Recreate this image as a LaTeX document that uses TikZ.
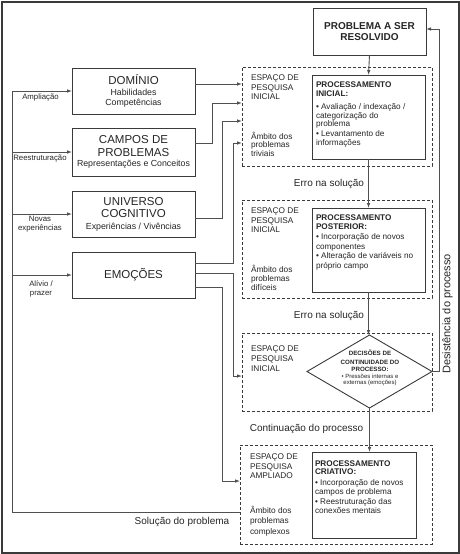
\documentclass[tikz,border=0pt]{standalone}
\usepackage{fontspec}
\setmainfont{Liberation Sans}
\usetikzlibrary{arrows.meta,shapes.geometric}
\definecolor{ink}{HTML}{262626}
\definecolor{lnc}{HTML}{3A3A3A}
\definecolor{cnc}{HTML}{505050}
\begin{document}
\begin{tikzpicture}[x=1pt,y=-1pt,
  every node/.style={text=ink, inner sep=0pt, outer sep=0pt},
  lbox/.style={draw=lnc, line width=0.9pt, minimum width=123pt, align=center,
    font=\fontsize{8.8}{10.5}\selectfont},
  pbox/.style={draw=lnc, line width=0.9pt, minimum width=113pt, minimum height=84pt},
  dbox/.style={draw=lnc, line width=0.8pt, dash pattern=on 3pt off 2pt, minimum width=190pt},
  ptxt/.style={anchor=north west, align=left, font=\fontsize{8.2}{8.8}\selectfont},
  etxt/.style={anchor=north west, align=left, font=\fontsize{8.3}{9.6}\selectfont},
  lab/.style={align=center, font=\fontsize{7.8}{9}\selectfont},
  big/.style={font=\fontsize{10}{12}\selectfont},
  conn/.style={draw=cnc, line width=0.9pt},
  arr/.style={conn, -{Latex[length=5pt,width=3.6pt]}},
  frame/.style={draw=lnc, line width=2pt}
]
\useasboundingbox (0,0) rectangle (460,554);
\fill[white] (0,0) rectangle (460,554);
\draw[frame] (1.5,1.5) rectangle (458.5,552.5);

% left boxes
\node[lbox, minimum height=46pt] (dom) at (133.5,91)
  {{\fontsize{11.5}{12}\selectfont DOMÍNIO}\\[0.5pt]Habilidades\\Competências};
\node[lbox, minimum height=48pt] (camp) at (133.5,152)
  {{\fontsize{11.5}{12}\selectfont CAMPOS DE}\\[2.5pt]{\fontsize{11.5}{12}\selectfont PROBLEMAS}\\Representações e Conceitos};
\node[lbox, minimum height=46pt] (univ) at (133.5,214)
  {{\fontsize{11.5}{12}\selectfont UNIVERSO}\\[1.5pt]{\fontsize{11.5}{12}\selectfont COGNITIVO}\\[1.5pt]Experiências / Vivências};
\node[lbox, minimum height=46pt] (emo) at (133.5,275)
  {\fontsize{11.5}{12}\selectfont EMOÇÕES};

% problem box
\node[draw=lnc, line width=0.9pt, minimum width=113pt, minimum height=47pt, align=center,
  font=\bfseries\fontsize{10}{11.5}\selectfont] (prob) at (369.5,31.5) {PROBLEMA A SER\\RESOLVIDO};

% dashed boxes
\node[dbox, minimum height=99pt] (d1) at (337,116.5) {};
\node[dbox, minimum height=98pt] (d2) at (337,249) {};
\node[dbox, minimum height=78pt] (d3) at (337,372) {};
\node[dbox, minimum width=192pt, minimum height=99pt] (d4) at (336,494.5) {};

% processing boxes
\node[pbox] (pi) at (368.5,117) {};
\node[pbox] (pp) at (368.5,250) {};
\node[pbox, minimum width=104pt, minimum height=86pt] (pc) at (364,495) {};
\node[draw=lnc, line width=0.9pt, diamond, minimum width=125pt, minimum height=73pt] (dia) at (369.5,371.5) {};

% processing texts
\node[ptxt] (pit) at (316,81.5)
  {\textbf{PROCESSAMENTO}\\\textbf{INICIAL:}\\[4.5pt]• Avaliação / indexação /\\categorização do\\problema\\[0.5pt]• Levantamento de\\informações};
\node[ptxt] (ppt) at (316,214.5)
  {\textbf{PROCESSAMENTO}\\\textbf{POSTERIOR:}\\[1.5pt]• Incorporação de novos\\[1pt]componentes\\[1pt]• Alteração de variáveis no\\[1pt]próprio campo};
\node[ptxt] (pct) at (315,460.5)
  {\textbf{PROCESSAMENTO}\\[-0.5pt]\textbf{CRIATIVO:}\\[2pt]• Incorporação de novos\\campos de problema\\[2pt]• Reestruturação das\\conexões mentais};
\node[align=center, font=\fontsize{6}{7}\selectfont] (diat) at (370,368)
  {{\bfseries\fontsize{6.2}{7}\selectfont DECISÕES DE}\\[1.5pt]{\bfseries\fontsize{6.2}{7}\selectfont CONTINUIDADE DO}\\[0.5pt]{\bfseries\fontsize{6.2}{7}\selectfont PROCESSO:}\\• Pressões internas e\\[-1pt]externas (emoções)};

% search space texts
\node[etxt] (e1) at (251,75) {ESPAÇO DE\\PESQUISA\\INICIAL};
\node[etxt, font=\fontsize{8.3}{8.7}\selectfont] (a1) at (251,132) {Âmbito dos\\problemas\\triviais};
\node[etxt] (e2) at (251,208) {ESPAÇO DE\\PESQUISA\\INICIAL};
\node[etxt, font=\fontsize{8.3}{8.9}\selectfont] (a2) at (251,265) {Âmbito dos\\problemas\\difíceis};
\node[etxt] (e3) at (251,346) {ESPAÇO DE\\PESQUISA\\INICIAL};
\node[etxt, font=\fontsize{8.3}{9.4}\selectfont] (e4) at (250,454) {ESPAÇO DE\\PESQUISA\\AMPLIADO};
\node[etxt, font=\fontsize{8.3}{10.4}\selectfont] (a4) at (250,506) {Âmbito dos\\problemas\\complexos};

% flow labels
\node[big] (err1) at (329,183.5) {Erro na solução};
\node[big] (err2) at (329,315.5) {Erro na solução};
\node[big] (cont) at (306.5,428.5) {Continuação do processo};
\node[big] (sol) at (182,521.5) {Solução do problema};
\node[font=\fontsize{11}{13}\selectfont, rotate=90] (des) at (447.5,314) {Desistência do processo};

% left labels
\node[lab] (l1) at (40.5,97.5) {Ampliação};
\node[lab] (l2) at (40,158.5) {Reestruturação};
\node[lab] (l3) at (40,224) {Novas\\experiências};
\node[lab] (l4) at (41,288.5) {Alívio /\\prazer};

% main vertical flow
\draw[arr] (prob.south) -- (pi.north);
\draw[arr] (pi.south) -- (pp.north);
\draw[arr] (pp.south) -- (pp.south |- dia.north);
\draw[arr] (dia.south) -- (dia.south |- pc.north);

% give up loop
\draw[arr] (dia.east) -- ++(7.5,0) |- ([yshift=2.5pt]prob.east);

% solution feedback loop
\coordinate (sl) at (12,512);
\coordinate (lt) at (12,91);
\draw[arr] (d4.west |- sl) -- (sl) -- (lt) -- (dom.west);
\draw[arr] (lt |- camp.west) -- (camp.west);
\draw[arr] (lt |- univ.west) -- (univ.west);
\draw[arr] (lt |- emo.west) -- (emo.west);

% left boxes into search spaces
\coordinate (dome) at ([yshift=7pt]dom.east);
\draw[arr] (dome) -- (dome -| d1.west);
\draw[arr] ([yshift=9pt]camp.east) -- ++(17,0) |- ([yshift=13.5pt]d1.west);
\draw[arr] ([yshift=-4pt]univ.east) -- ++(27,0) |- ([yshift=-4.5pt]d1.west);
\draw[arr] ([yshift=12pt]emo.east) -- ++(38,0) |- ([yshift=-26.5pt]d1.west);
\draw[arr] ([yshift=1.5pt]emo.east) -- ++(38,0) |- ([yshift=-4pt]d3.west);
\draw[arr] ([yshift=-12pt]emo.east) -- ++(27,0) |- ([yshift=13.5pt]d4.west);
\end{tikzpicture}
\end{document}
